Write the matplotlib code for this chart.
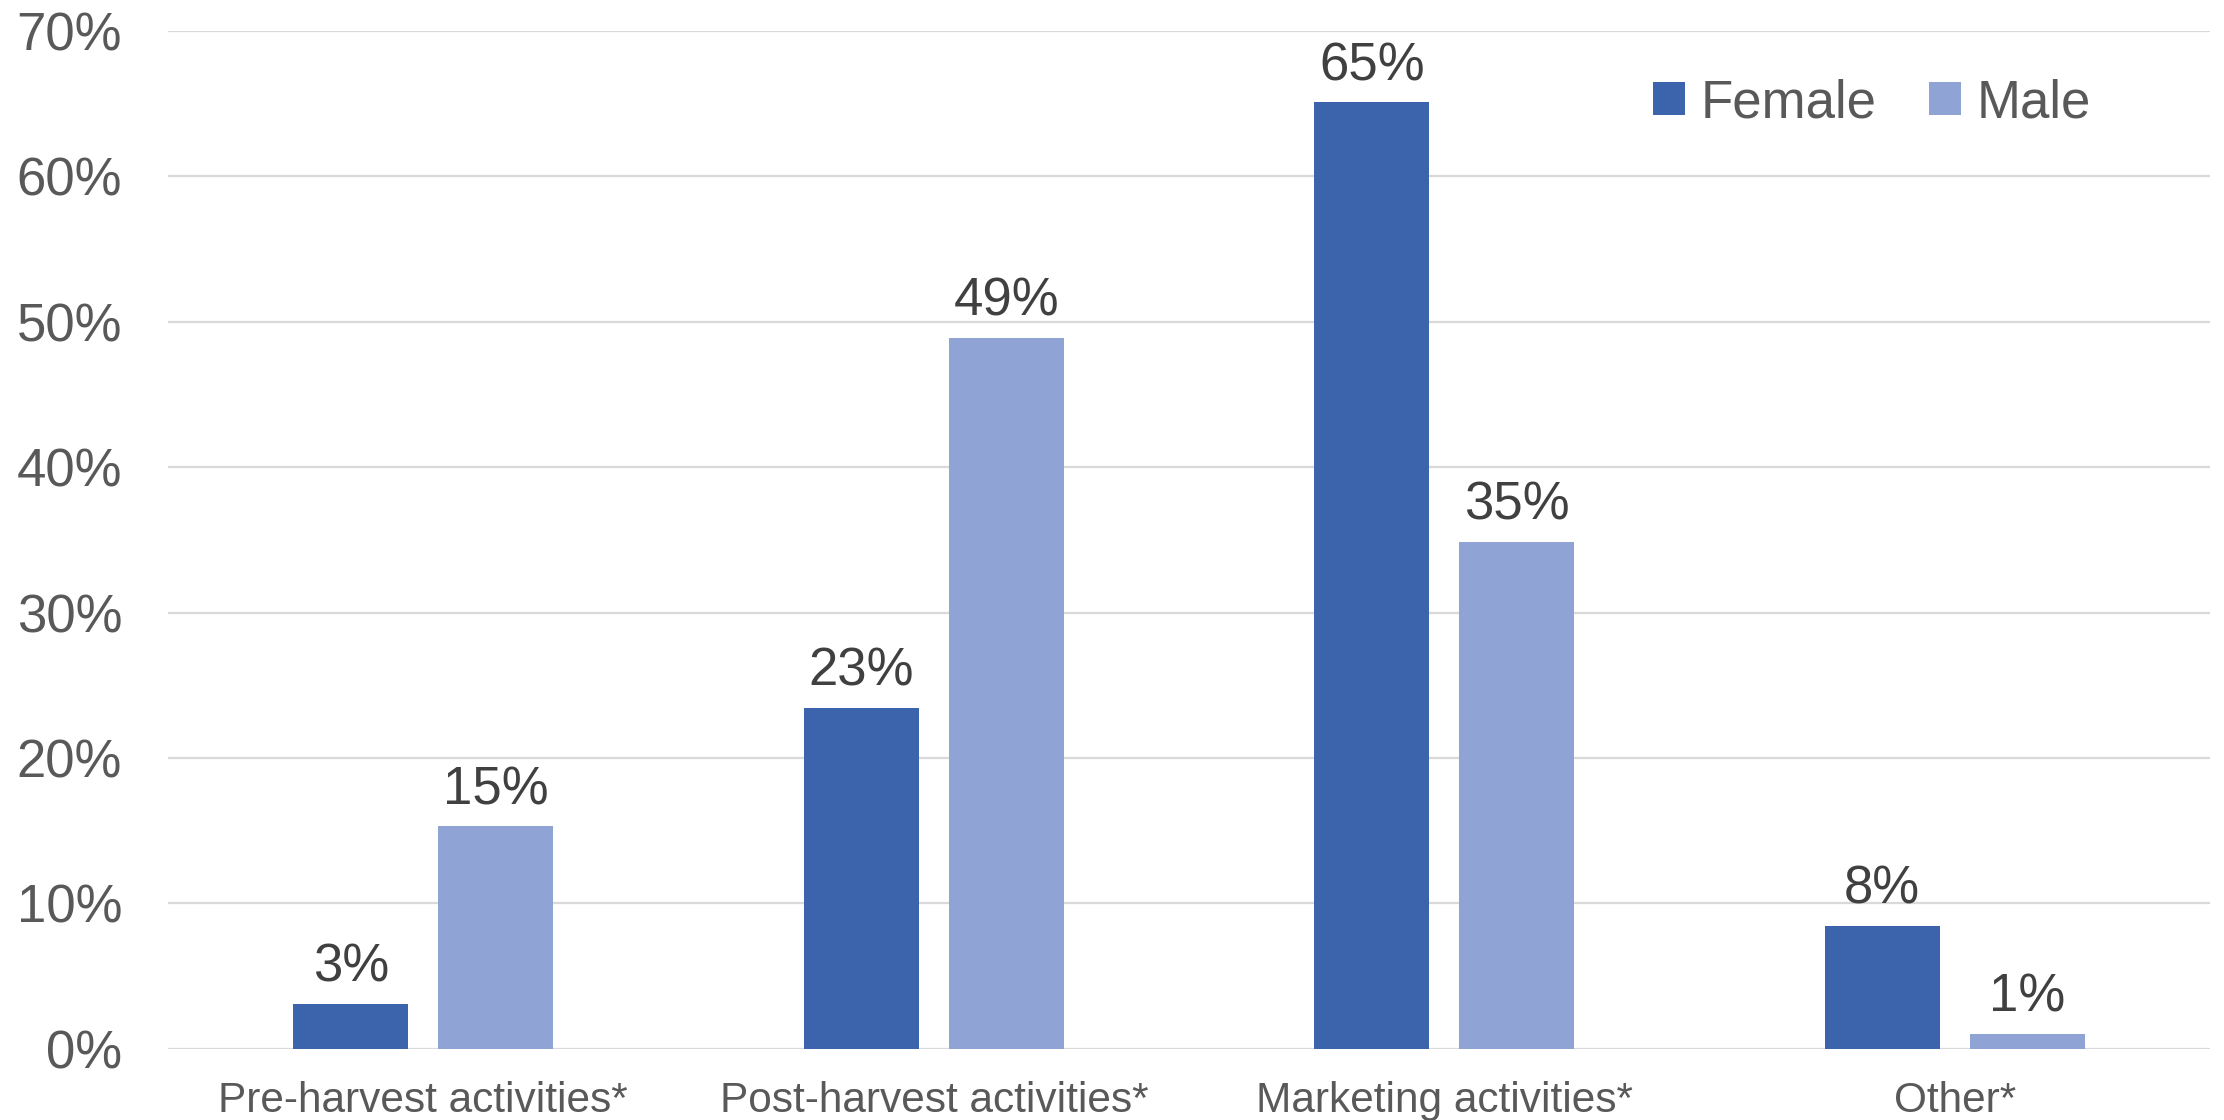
import matplotlib
matplotlib.use("Agg")
import matplotlib.pyplot as plt
import numpy as np

categories = ["Pre-harvest activities*", "Post-harvest activities*", "Marketing activities*", "Other*"]
female = [3.07, 23.43, 65.1, 8.44]
male = [15.3, 48.88, 34.85, 1.01]
female_labels = ["3%", "23%", "65%", "8%"]
male_labels = ["15%", "49%", "35%", "1%"]
yticks = [0, 10, 20, 30, 40, 50, 60, 70]
ytick_labels = ["0%", "10%", "20%", "30%", "40%", "50%", "60%", "70%"]

plt.rcParams['font.family'] = ['Liberation Sans', 'DejaVu Sans']

W, H = 2224, 1120
fig = plt.figure(figsize=(W / 100, H / 100), dpi=100)
ax = fig.add_axes([168 / W, 1 - 1048.7 / H, (2210 - 168) / W, (1048.7 - 31) / H])

c_f = '#3C64AD'
c_m = '#8FA4D4'
x = np.arange(len(categories))
bw = 0.225
off = 0.142
bf = ax.bar(x - off, female, bw, color=c_f, label='Female', zorder=3)
bm = ax.bar(x + off, male, bw, color=c_m, label='Male', zorder=3)

for rects, labs in ((bf, female_labels), (bm, male_labels)):
    for r, lab in zip(rects, labs):
        ax.annotate(lab, (r.get_x() + r.get_width() / 2, r.get_height()),
                    xytext=(0, 16), textcoords='offset points',
                    ha='center', va='baseline', fontsize=38, color='#404040')

ax.set_xlim(-0.5, len(categories) - 0.5)
ax.set_ylim(0, 70)
ax.set_yticks(yticks)
ax.set_yticklabels(ytick_labels)
ax.set_xticks(x)
ax.set_xticklabels(categories)
ax.tick_params(axis='y', length=0, pad=33, labelsize=38, labelcolor='#595959')
ax.tick_params(axis='x', length=0, pad=23.5, labelsize=30.5, labelcolor='#595959')
for s in ax.spines.values():
    s.set_visible(False)
ax.yaxis.grid(True, color='#D9D9D9', linewidth=1.6, zorder=0)
ax.set_axisbelow(True)

leg = ax.legend(loc='center', bbox_to_anchor=(1872 / W, 1 - 103 / H),
                bbox_transform=fig.transFigure, ncol=2, frameon=False,
                fontsize=38, handlelength=0.6, handleheight=0.6,
                handletextpad=0.3, columnspacing=1.0, borderpad=0)
for t in leg.get_texts():
    t.set_color('#595959')

fig.savefig('out.png', dpi=100)
